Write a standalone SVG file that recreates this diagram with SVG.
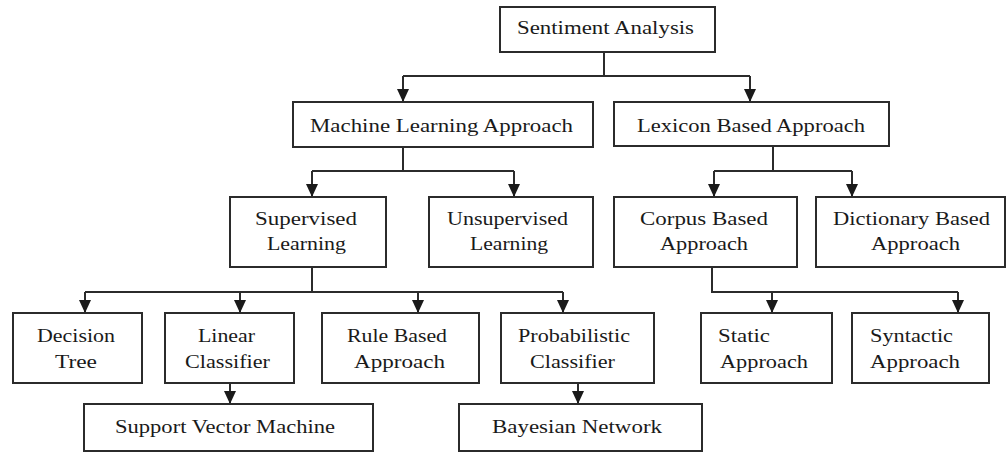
<svg xmlns="http://www.w3.org/2000/svg" width="1006" height="455" viewBox="0 0 1006 455">
<style>
.box{fill:#fff;stroke:#2b2b2b;stroke-width:2}
.ln{fill:none;stroke:#2b2b2b;stroke-width:2}
.ar{fill:none;stroke:#2b2b2b;stroke-width:2;marker-end:url(#ah)}
text{font-family:"Liberation Serif","Times New Roman",serif;font-size:19px;fill:#1a1a1a}
</style>
<defs>
<marker id="ah" markerUnits="userSpaceOnUse" markerWidth="13" markerHeight="12" refX="13" refY="6" orient="auto">
<path d="M0,0 L13,6 L0,12 Z" fill="#1a1a1a"/>
</marker>
</defs>
<rect width="1006" height="455" fill="#fff"/>
<g id="connectors">
<path class="ln" d="M604,52 V76 M403,76 H750"/>
<path class="ar" d="M403,76 V102"/>
<path class="ar" d="M750,76 V102"/>
<path class="ln" d="M403,147 V171 M312,171 H514"/>
<path class="ar" d="M312,171 V197"/>
<path class="ar" d="M514,171 V197"/>
<path class="ln" d="M773,146 V171 M714,171 H852"/>
<path class="ar" d="M714,171 V197"/>
<path class="ar" d="M852,171 V197"/>
<path class="ln" d="M312,267 V292 M85,292 H563"/>
<path class="ar" d="M85,292 V313"/>
<path class="ar" d="M240,292 V313"/>
<path class="ar" d="M418,292 V313"/>
<path class="ar" d="M563,292 V313"/>
<path class="ln" d="M712,267 V292 H958"/>
<path class="ar" d="M772,292 V313"/>
<path class="ar" d="M958,292 V313"/>
<path class="ar" d="M230,383 V404"/>
<path class="ar" d="M578,383 V404"/>
</g>
<g id="sentiment"><rect class="box" x="500" y="7" width="215" height="45"/><text x="517" y="34" textLength="177" lengthAdjust="spacingAndGlyphs">Sentiment Analysis</text></g>
<g id="ml"><rect class="box" x="293" y="102" width="300" height="45"/><text x="310" y="132" textLength="263" lengthAdjust="spacingAndGlyphs">Machine Learning Approach</text></g>
<g id="lexicon"><rect class="box" x="614" y="102" width="275" height="44"/><text x="637" y="132" textLength="228" lengthAdjust="spacingAndGlyphs">Lexicon Based Approach</text></g>
<g id="supervised"><rect class="box" x="230" y="197" width="156" height="70"/><text x="255" y="225" textLength="102" lengthAdjust="spacingAndGlyphs">Supervised</text><text x="267" y="250" textLength="79" lengthAdjust="spacingAndGlyphs">Learning</text></g>
<g id="unsupervised"><rect class="box" x="429" y="197" width="164" height="70"/><text x="447" y="225" textLength="121" lengthAdjust="spacingAndGlyphs">Unsupervised</text><text x="470" y="250" textLength="78" lengthAdjust="spacingAndGlyphs">Learning</text></g>
<g id="corpus"><rect class="box" x="614" y="197" width="183" height="70"/><text x="640" y="225" textLength="128" lengthAdjust="spacingAndGlyphs">Corpus Based</text><text x="660" y="250" textLength="88" lengthAdjust="spacingAndGlyphs">Approach</text></g>
<g id="dictionary"><rect class="box" x="816" y="197" width="189" height="70"/><text x="833" y="225" textLength="157" lengthAdjust="spacingAndGlyphs">Dictionary Based</text><text x="871" y="250" textLength="89" lengthAdjust="spacingAndGlyphs">Approach</text></g>
<g id="decision"><rect class="box" x="13" y="313" width="129" height="70"/><text x="37" y="342" textLength="78" lengthAdjust="spacingAndGlyphs">Decision</text><text x="55" y="368" textLength="42" lengthAdjust="spacingAndGlyphs">Tree</text></g>
<g id="linear"><rect class="box" x="165" y="313" width="129" height="70"/><text x="198" y="342" textLength="57" lengthAdjust="spacingAndGlyphs">Linear</text><text x="185" y="368" textLength="85" lengthAdjust="spacingAndGlyphs">Classifier</text></g>
<g id="rule"><rect class="box" x="322" y="313" width="157" height="70"/><text x="347" y="342" textLength="100" lengthAdjust="spacingAndGlyphs">Rule Based</text><text x="354" y="368" textLength="91" lengthAdjust="spacingAndGlyphs">Approach</text></g>
<g id="probabilistic"><rect class="box" x="501" y="313" width="153" height="70"/><text x="518" y="342" textLength="112" lengthAdjust="spacingAndGlyphs">Probabilistic</text><text x="530" y="368" textLength="85" lengthAdjust="spacingAndGlyphs">Classifier</text></g>
<g id="static"><rect class="box" x="701" y="313" width="131" height="70"/><text x="718" y="342" textLength="52" lengthAdjust="spacingAndGlyphs">Static</text><text x="720" y="368" textLength="88" lengthAdjust="spacingAndGlyphs">Approach</text></g>
<g id="syntactic"><rect class="box" x="852" y="313" width="137" height="70"/><text x="870" y="342" textLength="83" lengthAdjust="spacingAndGlyphs">Syntactic</text><text x="870" y="368" textLength="90" lengthAdjust="spacingAndGlyphs">Approach</text></g>
<g id="svm"><rect class="box" x="84" y="404" width="289" height="47"/><text x="115" y="433" textLength="220" lengthAdjust="spacingAndGlyphs">Support Vector Machine</text></g>
<g id="bayesian"><rect class="box" x="459" y="404" width="243" height="47"/><text x="492" y="433" textLength="170" lengthAdjust="spacingAndGlyphs">Bayesian Network</text></g>
</svg>
